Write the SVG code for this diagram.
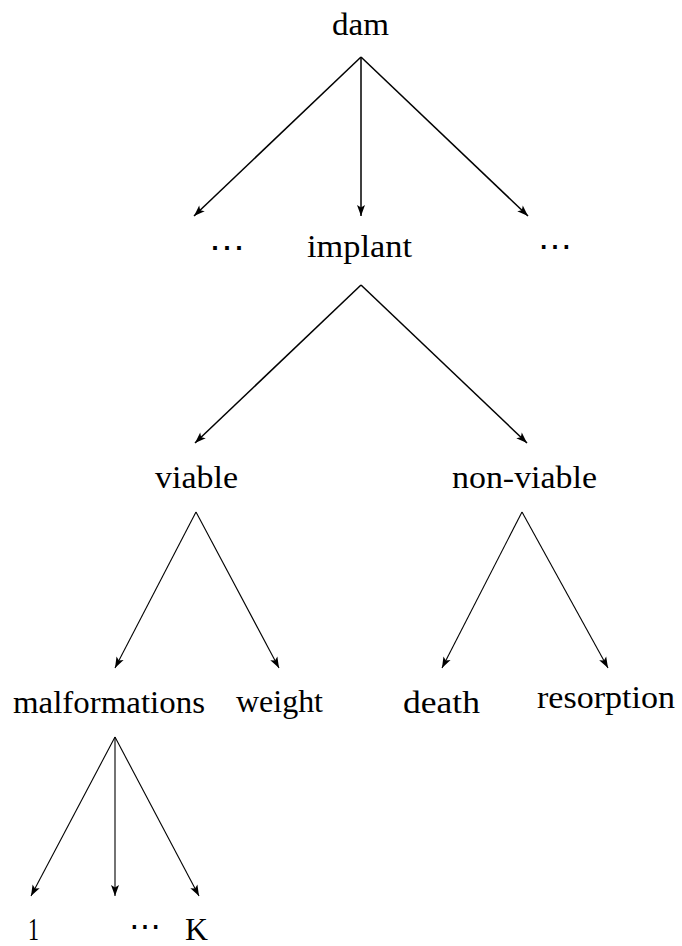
<svg xmlns="http://www.w3.org/2000/svg" width="682" height="946" viewBox="0 0 682 946">
<style>
.l{font-family:'Liberation Serif','Times New Roman',serif;font-size:31px;fill:#000}
.d{font-family:'DejaVu Serif',serif;font-size:30px;fill:#000}
.e{stroke:#000;fill:none;marker-end:url(#ah)}
.t{stroke-width:1.5}
.b{stroke-width:1.1}
</style>
<defs>
<marker id="ah" markerUnits="userSpaceOnUse" markerWidth="14" markerHeight="10" viewBox="-12 -5 14 10" refX="0" refY="0" orient="auto">
<path d="M0,0 L-11,-4 L-8.5,0 L-11,4 Z" fill="#000"/>
</marker>
</defs>
<rect width="682" height="946" fill="#fff"/>
<g id="connectors">
<line class="e t" x1="361" y1="57" x2="194" y2="216"/>
<line class="e t" x1="361" y1="57" x2="361" y2="216"/>
<line class="e t" x1="361" y1="57" x2="528" y2="216"/>
<line class="e t" x1="361" y1="285" x2="195" y2="443"/>
<line class="e t" x1="361" y1="285" x2="527" y2="443"/>
<line class="e b" x1="196" y1="512" x2="115" y2="668"/>
<line class="e b" x1="196" y1="512" x2="279" y2="668"/>
<line class="e b" x1="522" y1="512" x2="442" y2="668"/>
<line class="e b" x1="522" y1="512" x2="608" y2="668"/>
<line class="e b" x1="115" y1="737" x2="31" y2="896"/>
<line class="e b" x1="115" y1="737" x2="115" y2="896"/>
<line class="e b" x1="115" y1="737" x2="199" y2="896"/>
</g>
<g id="dam"><text class="l" x="332" y="35" textLength="57" lengthAdjust="spacingAndGlyphs">dam</text></g>
<g id="dots-left"><text class="d" x="226.5" y="257" text-anchor="middle" textLength="36" lengthAdjust="spacingAndGlyphs">⋯</text></g>
<g id="implant"><text class="l" x="307" y="257" textLength="105" lengthAdjust="spacingAndGlyphs">implant</text></g>
<g id="dots-right"><text class="d" x="554.5" y="256" text-anchor="middle" textLength="34" lengthAdjust="spacingAndGlyphs">⋯</text></g>
<g id="viable"><text class="l" x="155" y="488" textLength="83" lengthAdjust="spacingAndGlyphs">viable</text></g>
<g id="non-viable"><text class="l" x="452" y="488" textLength="145" lengthAdjust="spacingAndGlyphs">non-viable</text></g>
<g id="malformations"><text class="l" x="13" y="713" textLength="192" lengthAdjust="spacingAndGlyphs">malformations</text></g>
<g id="weight"><text class="l" x="236" y="712" textLength="87" lengthAdjust="spacingAndGlyphs">weight</text></g>
<g id="death"><text class="l" x="403" y="713" textLength="77" lengthAdjust="spacingAndGlyphs">death</text></g>
<g id="resorption"><text class="l" x="537" y="708" textLength="138" lengthAdjust="spacingAndGlyphs">resorption</text></g>
<g id="one"><text class="l" x="28" y="940" textLength="11" lengthAdjust="spacingAndGlyphs">1</text></g>
<g id="dots-bottom"><text class="d" x="144.5" y="936" text-anchor="middle" textLength="32" lengthAdjust="spacingAndGlyphs">⋯</text></g>
<g id="K"><text class="l" x="185" y="940" textLength="23" lengthAdjust="spacingAndGlyphs">K</text></g>
</svg>
